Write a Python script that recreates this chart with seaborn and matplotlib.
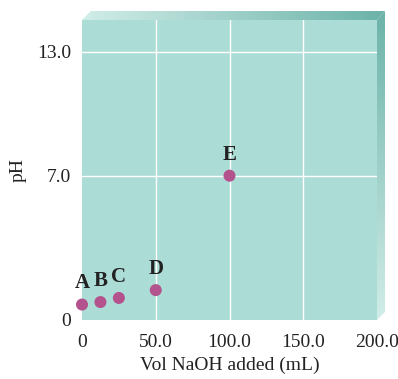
import numpy as np
import pandas as pd
import matplotlib
matplotlib.use("Agg")
import matplotlib.pyplot as plt
import seaborn as sns
from matplotlib.patches import Polygon

# titration points
labels = ["A", "B", "C", "D", "E"]
vol_naoh = [0.0, 12.5, 25.0, 50.0, 100.0]
ph = [0.75, 0.87, 1.07, 1.45, 7.0]

x_ticks = [0, 50, 100, 150, 200]
x_ticklabels = ["0", "50.0", "100.0", "150.0", "200.0"]
y_ticks = [0, 7, 13]
y_ticklabels = ["0", "7.0", "13.0"]

df = pd.DataFrame({"label": labels, "vol": vol_naoh, "ph": ph})

sns.set_style("white")
plt.rcParams["font.family"] = ["Liberation Serif", "DejaVu Serif"]
plt.rcParams["font.size"] = 14

W, H = 398, 379
fig = plt.figure(figsize=(W / 100, H / 100), dpi=100)

# plot area in pixels: left 82, right 377, top 20, bottom 320
ax = fig.add_axes([82 / W, 1 - 320 / H, (377 - 82) / W, (320 - 20) / H])
ax.set_facecolor("#acdcd6")
ax.set_xlim(0, 200)
ax.set_ylim(0, 14.55)

for v in [50, 100, 150]:
    ax.axvline(v, color="white", lw=1.0, zorder=1)
for v in [7, 13]:
    ax.axhline(v, color="white", lw=1.0, zorder=1)

sns.scatterplot(data=df, x="vol", y="ph", ax=ax, color="#b3528d", s=75,
                edgecolor="none", zorder=3, clip_on=False, legend=False)

for _, r in df.iterrows():
    ax.annotate(r["label"], (r["vol"], r["ph"]), textcoords="offset points",
                xytext=(0, 8), ha="center", va="bottom", fontsize=15,
                fontweight="bold", color="#222222")

for s in ax.spines.values():
    s.set_visible(False)
ax.tick_params(axis="x", length=0, labelsize=14, colors="#222222", pad=10)
ax.tick_params(axis="y", length=0, labelsize=14, colors="#222222", pad=8)
ax.set_xticks(x_ticks)
ax.set_xticklabels(x_ticklabels)
ax.set_yticks(y_ticks)
ax.set_yticklabels(y_ticklabels)
ax.set_xlabel("Vol NaOH added (mL)", fontsize=14, color="#222222", labelpad=4)
ax.set_ylabel("pH", fontsize=14, color="#222222", labelpad=7)

# bevel on top and right of the plot area
over = fig.add_axes([0, 0, 1, 1], zorder=-1)
over.set_xlim(0, W)
over.set_ylim(H, 0)
over.axis("off")
light = np.array([0.82, 0.93, 0.91])
dark = np.array([0.42, 0.70, 0.66])

t = np.linspace(0, 1, 256)
grad_h = (light[None, :] * (1 - t[:, None]) + dark[None, :] * t[:, None])[None, :, :]
im = over.imshow(grad_h, extent=(82, 385, 20, 11), aspect="auto")
top_poly = Polygon([(82, 20), (91, 11), (385, 11), (377, 20)], closed=True,
                   facecolor="none", edgecolor="none")
over.add_patch(top_poly)
im.set_clip_path(top_poly)

grad_v = (dark[None, :] * (1 - t[:, None]) + light[None, :] * t[:, None])[:, None, :]
im2 = over.imshow(grad_v, extent=(377, 385, 320, 11), aspect="auto")
right_poly = Polygon([(377, 20), (385, 11), (385, 312), (377, 320)], closed=True,
                     facecolor="none", edgecolor="none")
over.add_patch(right_poly)
im2.set_clip_path(right_poly)
over.set_xlim(0, W)
over.set_ylim(H, 0)

fig.savefig("out.png", dpi=100)
